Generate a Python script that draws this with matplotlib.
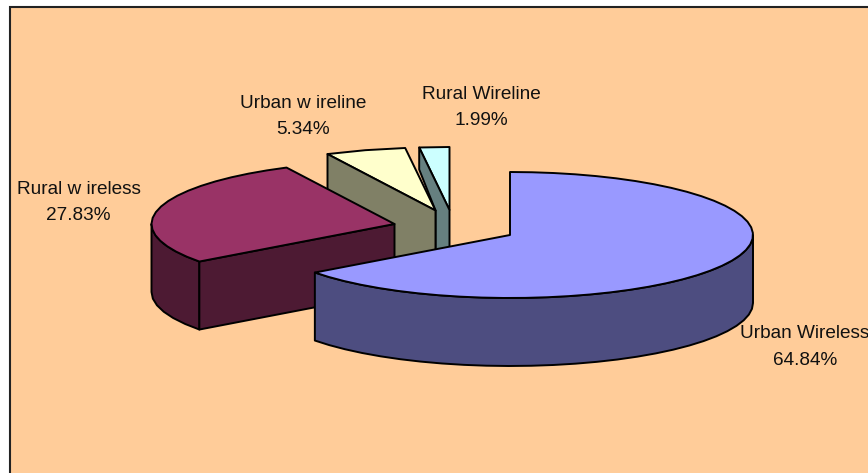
import numpy as np
import matplotlib
matplotlib.use("Agg")
import matplotlib.pyplot as plt
from matplotlib.patches import Polygon, Rectangle

plt.rcParams['font.family'] = ['Liberation Sans', 'DejaVu Sans']

# data
names = ["Urban Wireless", "Rural w ireless", "Urban w ireline", "Rural Wireline"]
shares = [64.84, 27.83, 5.34, 1.99]

# style / layout, in pixels of the picture
top_cols = ["#9999FF", "#993366", "#FFFFCC", "#CCFFFF"]
side_cols = ["#4D4D80", "#4D1A33", "#808066", "#668080"]
centres = [(510, 235), (394.5, 224), (435.5, 210.5), (449.5, 210)]
label_pos = [(805, 347), (78.5, 202.5), (303, 116.5), (481, 107.5)]
rx = 243
ry = 63
depth = 68
lw = 1.4

edges = np.concatenate([[0], np.cumsum(shares)]) * 3.6


def rim(i, t):
    t = np.radians(t)
    return np.column_stack([centres[i][0] + rx * np.sin(t),
                            centres[i][1] - ry * np.cos(t)])


def arc(i, a, b):
    n = max(int(abs(b - a) / 5), 2)
    return rim(i, np.linspace(a, b, n))


def down(pts):
    return pts + np.array([0, depth])


def poly(ax, pts, col):
    ax.add_patch(Polygon(pts, closed=True, fc=col, ec="black", lw=lw, joinstyle="round"))


def top(ax, i):
    pts = np.vstack([arc(i, edges[i], edges[i + 1]), [centres[i]]])
    poly(ax, pts, top_cols[i])


def radial_wall(ax, i, t):
    a = rim(i, t)
    c = np.array([centres[i]])
    poly(ax, np.vstack([a, c, down(c), down(a)]), side_cols[i])


def outer_wall(ax, i, a, b):
    pts = arc(i, a, b)
    poly(ax, np.vstack([pts, down(pts)[::-1]]), side_cols[i])


fig = plt.figure(figsize=(8.68, 4.73), dpi=100)
ax = fig.add_axes([0, 0, 1, 1])
ax.set_xlim(0, 868)
ax.set_ylim(473, 0)
ax.axis("off")

ax.add_patch(Rectangle((9.5, 7), 870, 480, fc="#FFCC99", ec="#222222", lw=1.5))

# back to front: rural wireline
a = rim(3, edges[3])
c = np.array([centres[3]])
c2 = np.array([centres[2]])
top(ax, 3)
poly(ax, np.vstack([a, c, down(c), [[c2[0, 0], down(c)[0, 1]]], c2, a + [0, 22]]), side_cols[3])

# urban wireline
top(ax, 2)
radial_wall(ax, 2, edges[2])

# rural wireless
outer_wall(ax, 1, edges[1], 270)
radial_wall(ax, 1, edges[1])
top(ax, 1)

# urban wireless
outer_wall(ax, 0, 90, edges[1])
top(ax, 0)

for i in range(len(names)):
    ax.text(label_pos[i][0], label_pos[i][1], f"{names[i]}\n{shares[i]:.2f}%",
            ha="center", va="center", fontsize=13.7, color="#111111",
            linespacing=1.75, clip_on=True)

fig.savefig("out.png", dpi=100)
